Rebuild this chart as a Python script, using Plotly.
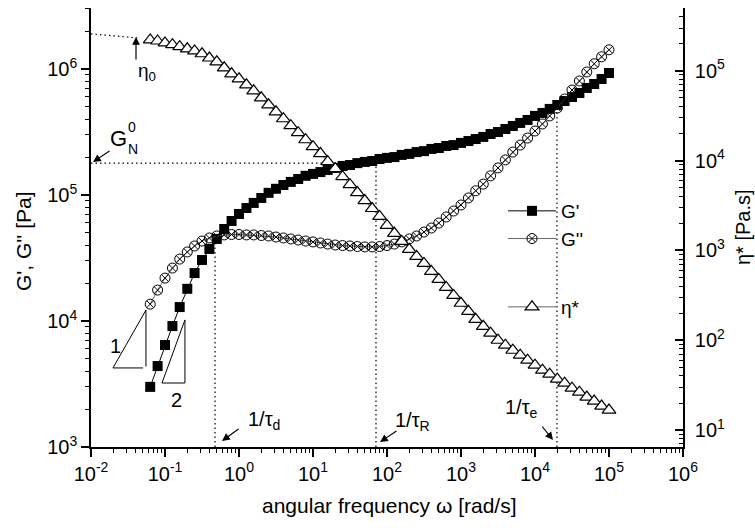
import plotly.graph_objects as go

# ---------------- data ----------------
omega = [0.0631, 0.0794, 0.1, 0.126, 0.158, 0.2, 0.251, 0.316, 0.398, 0.501,
         0.631, 0.794, 1.0, 1.26, 1.58, 2.0, 2.51, 3.16, 3.98, 5.01,
         6.31, 7.94, 10, 12.6, 15.8, 20, 25.1, 31.6, 39.8, 50.1,
         63.1, 79.4, 100, 126, 158, 200, 251, 316, 398, 501,
         631, 794, 1000, 1260, 1580, 2000, 2510, 3160, 3980, 5010,
         6310, 7940, 1e4, 1.26e4, 1.58e4, 2e4, 2.51e4, 3.16e4, 3.98e4, 5.01e4,
         6.31e4, 7.94e4, 1e5]

G_storage = [3.0e3, 4.39e3, 6.45e3, 9.12e3, 1.29e4, 1.80e4, 2.40e4, 3.05e4, 3.73e4, 4.48e4,
             5.37e4, 6.22e4, 7.07e4, 7.88e4, 8.65e4, 9.47e4, 1.04e5, 1.12e5, 1.20e5, 1.27e5,
             1.34e5, 1.42e5, 1.47e5, 1.52e5, 1.58e5, 1.64e5, 1.70e5, 1.73e5, 1.79e5, 1.83e5,
             1.86e5, 1.93e5, 1.97e5, 2.00e5, 2.08e5, 2.12e5, 2.19e5, 2.23e5, 2.32e5, 2.36e5,
             2.45e5, 2.49e5, 2.59e5, 2.68e5, 2.78e5, 2.89e5, 3.05e5, 3.16e5, 3.34e5, 3.53e5,
             3.73e5, 3.94e5, 4.24e5, 4.48e5, 4.82e5, 5.18e5, 5.57e5, 5.99e5, 6.45e5, 7.07e5,
             7.60e5, 8.33e5, 9.29e5]

G_loss = [1.36e4, 1.76e4, 2.19e4, 2.63e4, 3.10e4, 3.53e4, 3.94e4, 4.31e4, 4.56e4, 4.73e4,
          4.82e4, 4.86e4, 4.86e4, 4.82e4, 4.82e4, 4.77e4, 4.73e4, 4.64e4, 4.56e4, 4.48e4,
          4.39e4, 4.31e4, 4.24e4, 4.16e4, 4.08e4, 4.01e4, 3.97e4, 3.94e4, 3.90e4, 3.87e4,
          3.87e4, 3.90e4, 3.97e4, 4.08e4, 4.24e4, 4.48e4, 4.73e4, 5.08e4, 5.47e4, 5.99e4,
          6.69e4, 7.46e4, 8.33e4, 9.47e4, 1.08e5, 1.22e5, 1.42e5, 1.64e5, 1.90e5, 2.19e5,
          2.49e5, 2.83e5, 3.22e5, 3.66e5, 4.24e5, 4.90e5, 5.78e5, 6.81e5, 8.03e5, 9.47e5,
          1.10e6, 1.25e6, 1.42e6]

eta_star = [2.21e5, 2.15e5, 2.05e5, 1.96e5, 1.86e5, 1.76e5, 1.67e5, 1.55e5, 1.39e5, 1.26e5,
            1.08e5, 9.26e4, 8.15e4, 6.99e4, 6.00e4, 5.01e4, 4.19e4, 3.50e4, 2.93e4, 2.45e4,
            2.05e4, 1.71e4, 1.43e4, 1.20e4, 9.75e3, 8.15e3, 6.64e3, 5.41e3, 4.41e3, 3.59e3,
            2.93e3, 2.39e3, 1.90e3, 1.55e3, 1.26e3, 1.03e3, 858, 717, 584, 476,
            388, 316, 258, 210, 171, 143, 120, 100, 88.0, 77.4,
            68.1, 59.9, 52.7, 46.4, 41.9, 36.9, 33.3, 29.3, 26.4, 23.3,
            21.0, 18.5, 16.7]

# characteristic values (guide lines)
eta0_w = [0.01, 0.042]
eta0_v = [2.58e5, 2.33e5]
GN0 = 1.79e5
w_tau_d, w_tau_R, w_tau_e = 0.474, 71.0, 1.98e4
G_tau_tops = [4.3e4, GN0, 4.6e5]
G_floor = 1e3

# slope triangles
tri1_w = [0.0505, 0.0198, 0.0553, 0.0553]
tri1_G = [4.24e3, 4.24e3, 1.22e4, 4.35e3]
tri2_w = [0.0910, 0.186, 0.186, 0.0910]
tri2_G = [3.22e3, 3.22e3, 1.02e4, 3.22e3]

x_major = [1e-2, 1e-1, 1e0, 1e1, 1e2, 1e3, 1e4, 1e5, 1e6]
x_major_txt = ["10<sup>-2</sup>", "10<sup>-1</sup>", "10<sup>0</sup>", "10<sup>1</sup>",
               "10<sup>2</sup>", "10<sup>3</sup>", "10<sup>4</sup>", "10<sup>5</sup>", "10<sup>6</sup>"]
yl_major = [1e3, 1e4, 1e5, 1e6]
yl_major_txt = ["10<sup>3</sup>", "10<sup>4</sup>", "10<sup>5</sup>", "10<sup>6</sup>"]
yr_major = [1e1, 1e2, 1e3, 1e4, 1e5]
yr_major_txt = ["10<sup>1</sup>", "10<sup>2</sup>", "10<sup>3</sup>", "10<sup>4</sup>", "10<sup>5</sup>"]


def minors(lo, hi):
    return [m * 10.0 ** k for k in range(lo, hi) for m in range(2, 10)]


FONT = "Liberation Sans, Arial, sans-serif"
DOT = "1.5px,3px"

fig = go.Figure()

# guide lines
fig.add_trace(go.Scatter(x=eta0_w, y=eta0_v, yaxis="y2", mode="lines",
                         line=dict(color="black", width=1.2, dash=DOT), showlegend=False, hoverinfo="skip"))
fig.add_trace(go.Scatter(x=[0.01, w_tau_R], y=[GN0, GN0], mode="lines",
                         line=dict(color="black", width=1.2, dash=DOT), showlegend=False, hoverinfo="skip"))
for w, top in zip([w_tau_d, w_tau_R, w_tau_e], G_tau_tops):
    fig.add_trace(go.Scatter(x=[w, w], y=[G_floor, top], mode="lines",
                             line=dict(color="black", width=1.2, dash=DOT), showlegend=False, hoverinfo="skip"))
for tw, tg in [(tri1_w, tri1_G), (tri2_w, tri2_G)]:
    fig.add_trace(go.Scatter(x=tw, y=tg, mode="lines", line=dict(color="black", width=1),
                             showlegend=False, hoverinfo="skip"))

# data
fig.add_trace(go.Scatter(x=omega, y=G_storage, name="G'", mode="lines+markers",
                         line=dict(color="black", width=1),
                         marker=dict(symbol="square", size=10, color="black"),
                         legend="legend"))
fig.add_trace(go.Scatter(x=omega, y=G_loss, name="G''", mode="lines+markers",
                         line=dict(color="#666666", width=1),
                         marker=dict(symbol="circle-x-open", size=10, color="black",
                                     line=dict(color="black", width=1)),
                         legend="legend"))
fig.add_trace(go.Scatter(x=omega, y=eta_star, name="η*", yaxis="y2", mode="lines+markers",
                         line=dict(color="#666666", width=1),
                         marker=dict(symbol="triangle-up", size=12, color="white",
                                     line=dict(color="black", width=1.2)),
                         legend="legend2"))

L, R, T, B = 91, 683, 8, 447
PW, PH = R - L, B - T


def px(x):
    return (x - L) / PW


def py(y):
    return (B - y) / PH


ax_common = dict(showline=True, linecolor="black", linewidth=1.6, showgrid=False, zeroline=False,
                 tickcolor="black", tickwidth=1.5, ticklen=8,
                 tickfont=dict(family=FONT, size=20, color="black"))

fig.update_layout(
    width=755, height=528,
    margin=dict(l=L, r=755 - R, t=T, b=528 - B),
    paper_bgcolor="white", plot_bgcolor="white",
    font=dict(family=FONT, color="black"),
    xaxis=dict(type="log", range=[-2, 6], ticks="outside", tickmode="array",
               tickvals=x_major, ticktext=x_major_txt,
               minor=dict(ticks="outside", ticklen=4, tickwidth=1.2, tickcolor="black",
                          tickmode="array", tickvals=minors(-2, 6)),
               **ax_common),
    yaxis=dict(type="log", range=[3, 6.484], ticks="outside", tickmode="array",
               tickvals=yl_major, ticktext=yl_major_txt,
               minor=dict(ticks="outside", ticklen=4, tickwidth=1.2, tickcolor="black",
                          tickmode="array", tickvals=minors(3, 7)),
               **ax_common),
    yaxis2=dict(type="log", range=[0.811, 5.70], overlaying="y", side="right", anchor="x",
                ticks="inside", tickmode="array", tickvals=yr_major, ticktext=yr_major_txt,
                ticklabelstandoff=6,
                minor=dict(ticks="inside", ticklen=4, tickwidth=1.2, tickcolor="black",
                           tickmode="array", tickvals=minors(0, 6)),
                **ax_common),
    legend=dict(x=px(503), y=py(192), xanchor="left", yanchor="top",
                bgcolor="rgba(0,0,0,0)", font=dict(family=FONT, size=19, color="black"),
                itemwidth=48, tracegroupgap=0),
    legend2=dict(x=px(503), y=py(288), xanchor="left", yanchor="top",
                 bgcolor="rgba(0,0,0,0)", font=dict(family=FONT, size=19, color="black"),
                 itemwidth=48),
)

ann = []


def text(x, y, s, size=18, angle=0):
    ann.append(dict(x=px(x), y=py(y), xref="paper", yref="paper", text=s, showarrow=False,
                    xanchor="center", yanchor="middle", textangle=angle,
                    font=dict(family=FONT, size=size, color="black")))


def arrow(hx, hy, tx, ty):
    ann.append(dict(x=px(hx), y=py(hy), xref="paper", yref="paper", text="", showarrow=True,
                    ax=tx - hx, ay=ty - hy, arrowhead=2, arrowsize=1.3, arrowwidth=1.2,
                    arrowcolor="black"))


# axis titles
text(389, 505, "angular frequency ω [rad/s]", 21)
text(23, 241, "G', G'' [Pa]", 21, -90)
text(743, 227, "η* [Pa.s]", 20, -90)

# eta_0
arrow(136, 37, 136, 61)
text(147, 72, "η<sub>0</sub>", 19)
# G_N^0
arrow(93, 162, 111, 150)
text(118, 138, "G", 22)
text(132, 127, "0", 14)
text(133, 149, "N", 14)
# relaxation times
text(264, 420, "1/τ<sub>d</sub>", 20)
arrow(222, 441, 240, 428)
text(412, 421, "1/τ<sub>R</sub>", 20)
arrow(380, 442, 398, 430)
text(521, 408, "1/τ<sub>e</sub>", 20)
arrow(553, 440, 541, 425)
# slopes
text(115, 346, "1", 20)
text(176, 400, "2", 20)

fig.update_layout(annotations=ann)
fig.write_html("out.html")
